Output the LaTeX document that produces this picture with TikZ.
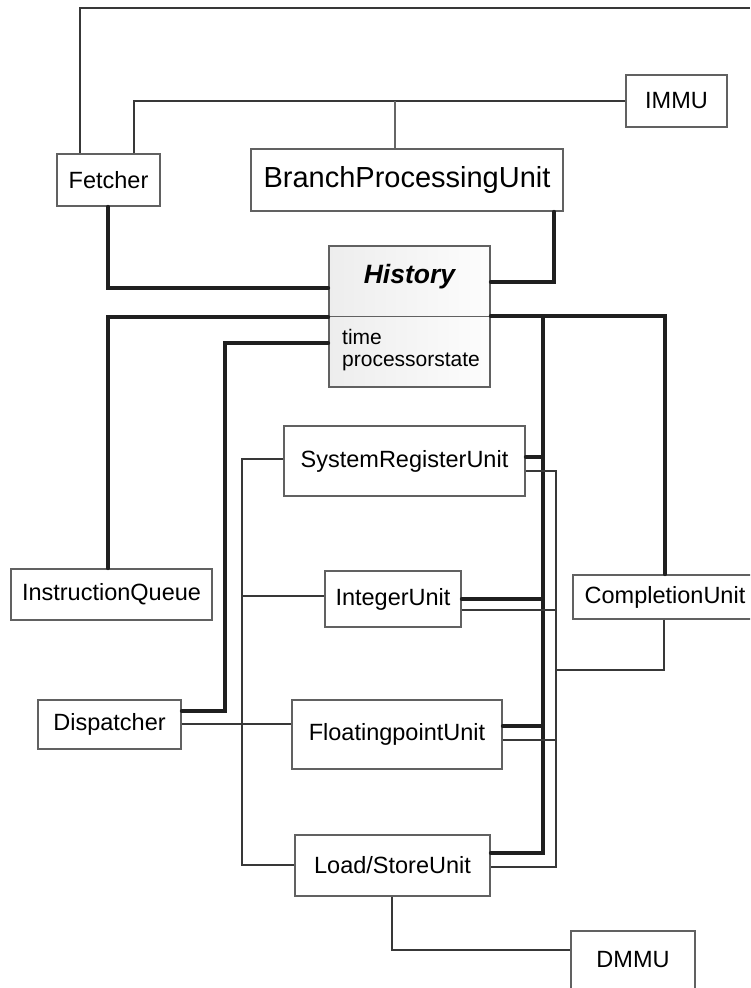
\documentclass[tikz,border=0pt]{standalone}
\usepackage{fontspec}
\setmainfont{Liberation Sans}
\begin{document}
\begin{tikzpicture}[x=1pt,y=-1pt,
  unit/.style={draw=black!62,line width=1.3pt,fill=white,inner sep=0pt,
    font=\fontsize{23.5}{28}\selectfont},
  thin/.style={draw=black!78,line width=1.1pt},
  bus/.style={draw=black!88,line width=3.6pt,line cap=round}]
\clip (0,0) rectangle (750,988);
\fill[white] (0,0) rectangle (750,988);

% units
\node[unit,minimum width=103pt,minimum height=52pt] (fetch) at (108.5,180) {Fetcher};
\node[unit,minimum width=101pt,minimum height=52pt] (immu) at (676.5,101) {IMMU};
\node[unit,minimum width=312pt,minimum height=62pt,font=\fontsize{29}{34}\selectfont] (bpu) at (407,180) {BranchProcessingUnit};
\node[unit,minimum width=201pt,minimum height=51pt] (iq) at (111.5,594.5) {InstructionQueue};
\node[unit,minimum width=143pt,minimum height=49pt] (disp) at (109.5,724.5) {Dispatcher};
\node[unit,minimum width=241pt,minimum height=70pt] (sru) at (404.5,461) {SystemRegisterUnit};
\node[unit,minimum width=136pt,minimum height=56pt] (intu) at (393,599) {IntegerUnit};
\node[unit,minimum width=210pt,minimum height=69pt] (fpu) at (397,734.5) {FloatingpointUnit};
\node[unit,minimum width=195pt,minimum height=61pt] (lsu) at (392.5,865.5) {Load/StoreUnit};
\node[unit,minimum width=184pt,minimum height=44pt] (cu) at (665,597) {CompletionUnit};
\node[unit,minimum width=124pt,minimum height=58pt] (dmmu) at (633,960) {DMMU};

% History class box with two compartments
\node[draw=black!62,line width=1.3pt,left color=black!7,right color=black!1,
  minimum width=161pt,minimum height=141pt,inner sep=0pt] (hist) at (409.5,316.5) {};
\draw[black!62,line width=1.3pt] (hist.west) -- (hist.east);
\node[font=\fontsize{26.5}{30}\selectfont\bfseries\itshape] (histname) at (409.5,277) {History};
\node[anchor=north west,align=left,inner sep=0pt,font=\fontsize{21}{22.5}\selectfont] (histattr) at (342,329) {time\\processorstate};

% instruction memory links
\coordinate (topright) at (750,8);
\draw[thin] (fetch.north -| 80,0) |- (topright);
\draw[thin] (fetch.north -| 134,0) |- (immu.west);
\coordinate (bpujoin) at (395,101);
\draw[draw=black!60,line width=2pt] (bpu.north -| bpujoin) -- (bpujoin);

% history links
\draw[bus] (fetch.south -| 108,0) |- (hist.west |- 0,288);
\draw[bus] (bpu.south -| 554,0) |- (hist.east |- 0,282);
\draw[bus] (hist.west |- 0,317) -| (iq.north -| 108,0);
\draw[bus] (hist.west |- 0,343) -| (225,711) -- (disp.east |- 0,711);
\draw[bus] (hist.east |- 0,316) -| (cu.north -| 665,0);
\coordinate (bustop) at (543,316);
\coordinate (busbot) at (543,853);
\draw[bus] (bustop) -- (busbot) -- (lsu.east |- busbot);
\draw[bus] (sru.east |- 0,457) -- (543,457);
\draw[bus] (intu.east |- 0,599) -- (543,599);
\draw[bus] (fpu.east |- 0,726) -- (543,726);

% right-hand thin bus
\draw[thin] (sru.east |- 0,471) -| (556,867) -- (lsu.east |- 0,867);
\draw[thin] (intu.east |- 0,610) -- (556,610);
\draw[thin] (fpu.east |- 0,740) -- (556,740);
\draw[thin] (cu.south -| 664,0) |- (556,670);

% left-hand thin bus
\draw[thin] (sru.west |- 0,459) -| (242,865) -- (lsu.west |- 0,865);
\draw[thin] (242,596) -- (intu.west |- 0,596);
\draw[thin] (disp.east |- 0,724) -- (fpu.west |- 0,724);

% data memory link
\draw[thin] (lsu.south -| 392,0) |- (dmmu.west |- 0,950);
\end{tikzpicture}
\end{document}
